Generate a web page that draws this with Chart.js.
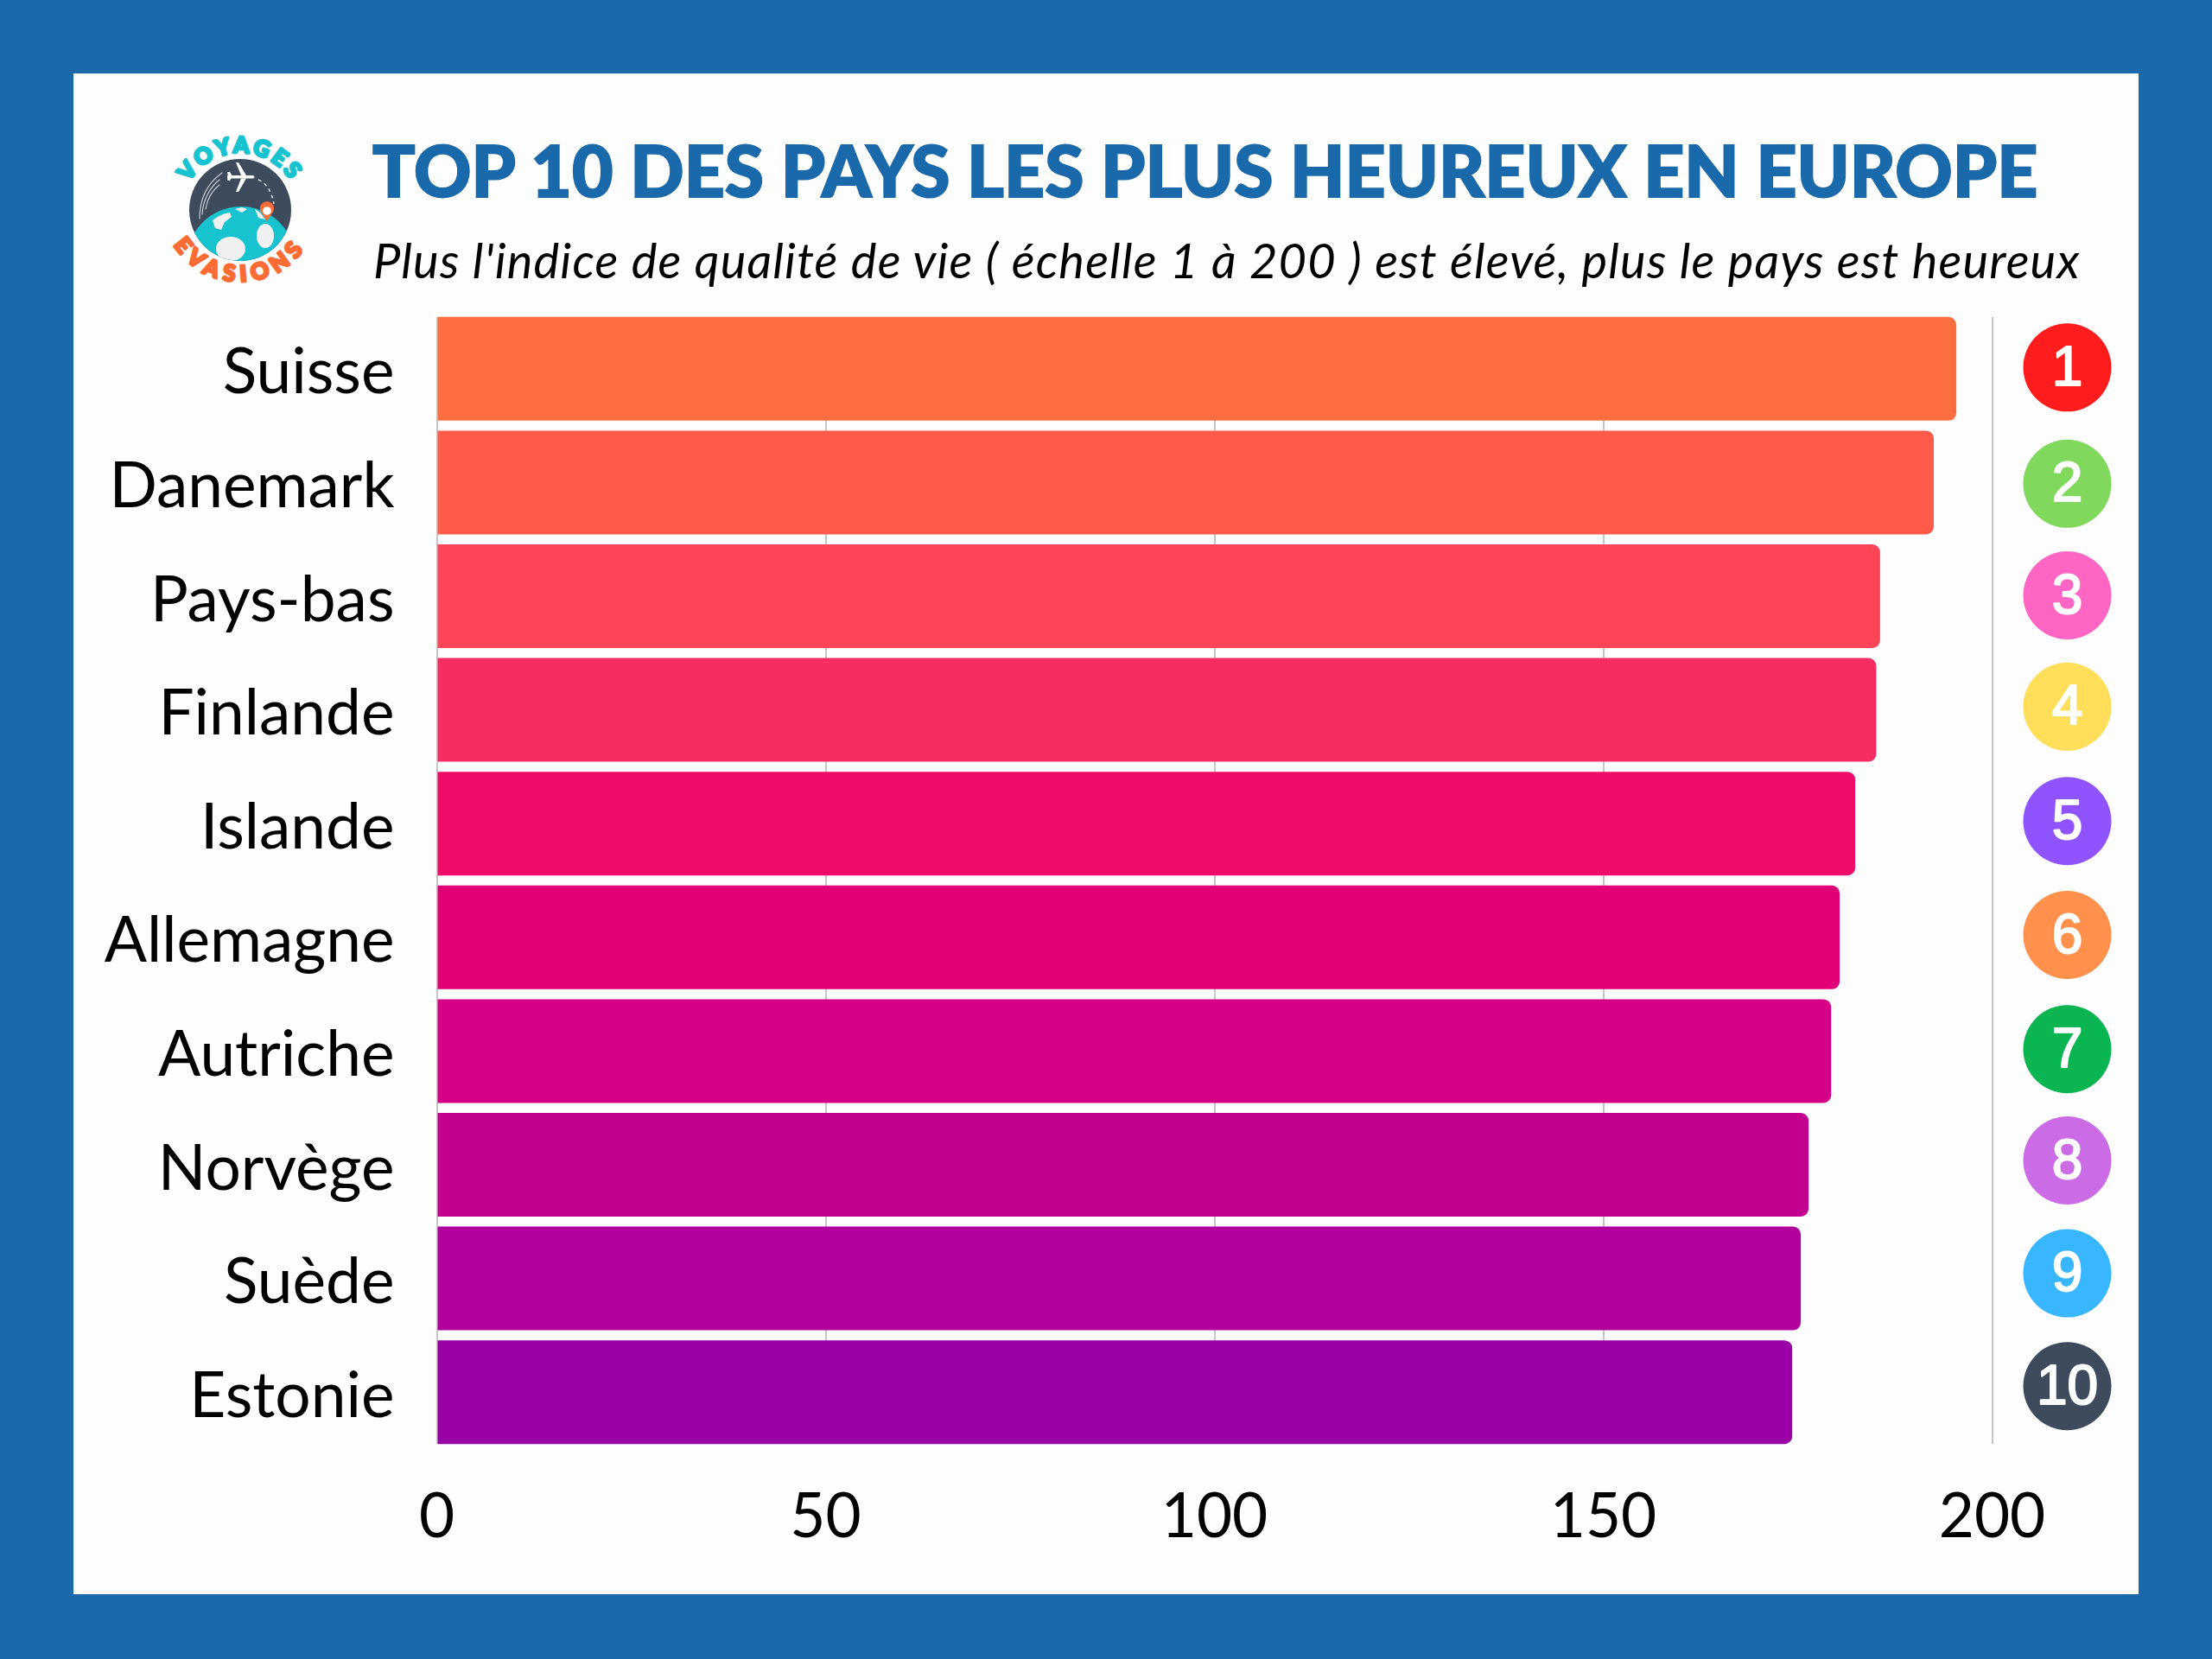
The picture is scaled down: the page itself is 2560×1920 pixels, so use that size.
<!DOCTYPE html>
<html lang="fr">
<head>
<meta charset="utf-8">
<title>Top 10 des pays les plus heureux en Europe</title>
<script src="https://cdn.jsdelivr.net/npm/chart.js@4/dist/chart.umd.min.js"></script>
<style>
html,body{margin:0;padding:0;width:2560px;height:1920px;background:#1a69aa;overflow:hidden}
#panel{position:absolute;left:85px;top:85px;width:2390px;height:1760px;background:#fdfdfd}
#c{position:absolute;left:0;top:0;width:2560px;height:1920px}
h1,h2{position:absolute;margin:0;white-space:nowrap;line-height:1}
h1{left:431px;top:155px;font:900 82px/1 Lato,sans-serif;color:#1a69aa;letter-spacing:0.1px;-webkit-text-stroke:2px #1a69aa}
h2{left:432px;top:273px;font:italic 400 56px/1 Lato,sans-serif;color:#000;letter-spacing:1.18px}
#logo{position:absolute;left:160px;top:130px;width:240px;height:240px}
</style>
</head>
<body>
<div id="panel"></div>
<svg id="logo" viewBox="0 0 240 240" aria-label="Voyages Evasions">
  <defs>
    <clipPath id="disc"><circle cx="118" cy="113" r="59"/></clipPath>
    <path id="arcTop" d="M 50 113 A 68 66 0 0 1 186 113"/>
    <path id="arcBot" d="M 28 108 A 90 88 0 0 0 208 108"/>
  </defs>
  <circle cx="118" cy="113" r="59" fill="#3e4b5c"/>
  <g clip-path="url(#disc)">
    <circle cx="119" cy="172" r="63" fill="#17c3ce"/>
    <ellipse cx="107" cy="158" rx="17" ry="14" fill="#f0f0f0"/>
    <ellipse cx="147" cy="143" rx="10" ry="14" fill="#f0f0f0"/>
    <path d="M86 125q10-8 20-9l2 5-8 6-4 9-7-2z" fill="#f0f0f0"/>
    <path d="M112 112l8-2 6 2-6 4z" fill="#f0f0f0"/>
    <path d="M135 112l6 4 6 8-8-2z" fill="#f0f0f0"/>
  </g>
  <g fill="none" stroke="#c9ccd1" stroke-width="1.2" stroke-linecap="round">
    <path d="M71 123C71 100 80 82 97 70"/>
    <path d="M74 118C75 100 84 86 94 78"/>
    <path d="M78 112C80 100 86 90 94 84"/>
  </g>
  <g fill="#fff">
    <path d="M103 73h30q3 2 0 3.500h-30z"/>
    <path d="M113 58l3 0 9 15h-6zM113 92l3 0 9-15.500h-6z"/>
    <path d="M103 69l3 0 3 5-3 5-3 0 1-5z"/>
  </g>
  <path d="M139 78q14 6 18 28" fill="none" stroke="#e8e8e8" stroke-width="1.500" stroke-dasharray="4 4"/>
  <path d="M149 126l-7-11a8 8 0 1 1 14 0z" fill="#ff6b35"/>
  <circle cx="149" cy="114" r="4.800" fill="#fff"/>
  <text font-family="Lato, sans-serif" font-weight="900" font-size="26" fill="#17c3ce" stroke="#17c3ce" stroke-width="3" stroke-linejoin="round" letter-spacing="3.500" text-anchor="middle"><textPath href="#arcTop" startOffset="50%">VOYAGES</textPath></text>
  <text font-family="Lato, sans-serif" font-weight="900" font-size="26" fill="#ff6b35" stroke="#ff6b35" stroke-width="3" stroke-linejoin="round" letter-spacing="7" text-anchor="middle"><textPath href="#arcBot" startOffset="50%">EVASIONS</textPath></text>
</svg>
<h1>TOP 10 DES PAYS LES PLUS HEUREUX EN EUROPE</h1>
<h2>Plus l'indice de qualité de vie ( échelle 1 à 200 ) est élevé, plus le pays est heureux</h2>
<canvas id="c" width="2560" height="1920"></canvas>
<script>
const countries = ["Suisse","Danemark","Pays-bas","Finlande","Islande","Allemagne","Autriche","Norvège","Suède","Estonie"];
const qualityIndex = [195.4,192.5,185.6,185.1,182.4,180.4,179.3,176.4,175.4,174.3];
const barColors = ["#fe6d3f","#ff5a4a","#fe4558","#f62d61","#ef0c69","#e20077","#d50085","#c40091","#b1009c","#9900a6"];
const axisTicks = [0,50,100,150,200];
const ranks = ["1","2","3","4","5","6","7","8","9","10"];
const rankColors = ["#ff1c1c","#80d95c","#ff66c3","#ffde59","#8f54ff","#ff914d","#0bb552","#cb6ce6","#38b6ff","#3e4b5c"];

const PANEL = "#fdfdfd";
const rankNudge = [-1.5,1.4,-1,-3.8,-3,-2.8,-2.2,-5,-6,-7];

const gridTrim = {
  id:"gridTrim",
  beforeDraw(chart){
    chart.scales.y.getLabelItems().forEach(it=>{
      if(!it.nudged){ it.textOffset += 5; it.nudged = true; }
    });
  },
  beforeDatasetsDraw(chart){
    const a = chart.chartArea, c = chart.ctx;
    c.save();
    c.fillStyle = PANEL;
    c.fillRect(a.left-4, a.top-2, a.width+8, 8);
    c.fillRect(a.left-4, a.bottom-6, a.width+8, 8);
    c.restore();
  }
};
const rankBadges = {
  id:"rankBadges",
  afterDraw(chart){
    const c = chart.ctx, x = chart.scales.x.getPixelForValue(200)+87;
    c.save();
    ranks.forEach((r,i)=>{
      const y = chart.scales.y.getPixelForValue(i)+rankNudge[i];
      c.beginPath(); c.arc(x,y,51,0,Math.PI*2); c.fillStyle = rankColors[i]; c.fill();
      c.font = "64px 'Liberation Sans', sans-serif";
      c.textAlign = "center"; c.textBaseline = "middle";
      c.lineJoin = "round"; c.lineWidth = 2;
      c.strokeStyle = "#fff"; c.fillStyle = "#fff";
      c.strokeText(r,x,y+3); c.fillText(r,x,y+3);
    });
    c.restore();
  }
};

Chart.defaults.devicePixelRatio = 1;
new Chart(document.getElementById("c"),{
  type:"bar",
  data:{labels:countries,datasets:[{
    label:"Indice de qualité de vie",
    data:qualityIndex,
    backgroundColor:barColors,
    barPercentage:0.912,
    categoryPercentage:1,
    borderRadius:{topRight:9,bottomRight:9,topLeft:0,bottomLeft:0},
    borderSkipped:false
  }]},
  options:{
    indexAxis:"y",
    responsive:false,
    animation:false,
    devicePixelRatio:1,
    layout:{padding:{left:0,right:254.5,top:361,bottom:63}},
    plugins:{legend:{display:false},tooltip:{enabled:false},title:{display:false}},
    scales:{
      x:{
        min:0,max:200,
        afterBuildTicks(s){s.ticks = axisTicks.map(v=>({value:v}));},
        afterFit(s){s.height = 180;},
        grid:{color:"#c6c6c6",lineWidth:2,drawTicks:false},
        border:{display:false},
        ticks:{color:"#000",font:{family:"Lato",size:71},padding:37,maxRotation:0,autoSkip:false}
      },
      y:{
        afterFit(s){s.width = 505.5;},
        grid:{display:false,drawTicks:false},
        border:{display:false},
        ticks:{color:"#000",font:{family:"Lato",size:73},padding:49,autoSkip:false}
      }
    }
  },
  plugins:[gridTrim,rankBadges]
});
</script>
</body>
</html>
